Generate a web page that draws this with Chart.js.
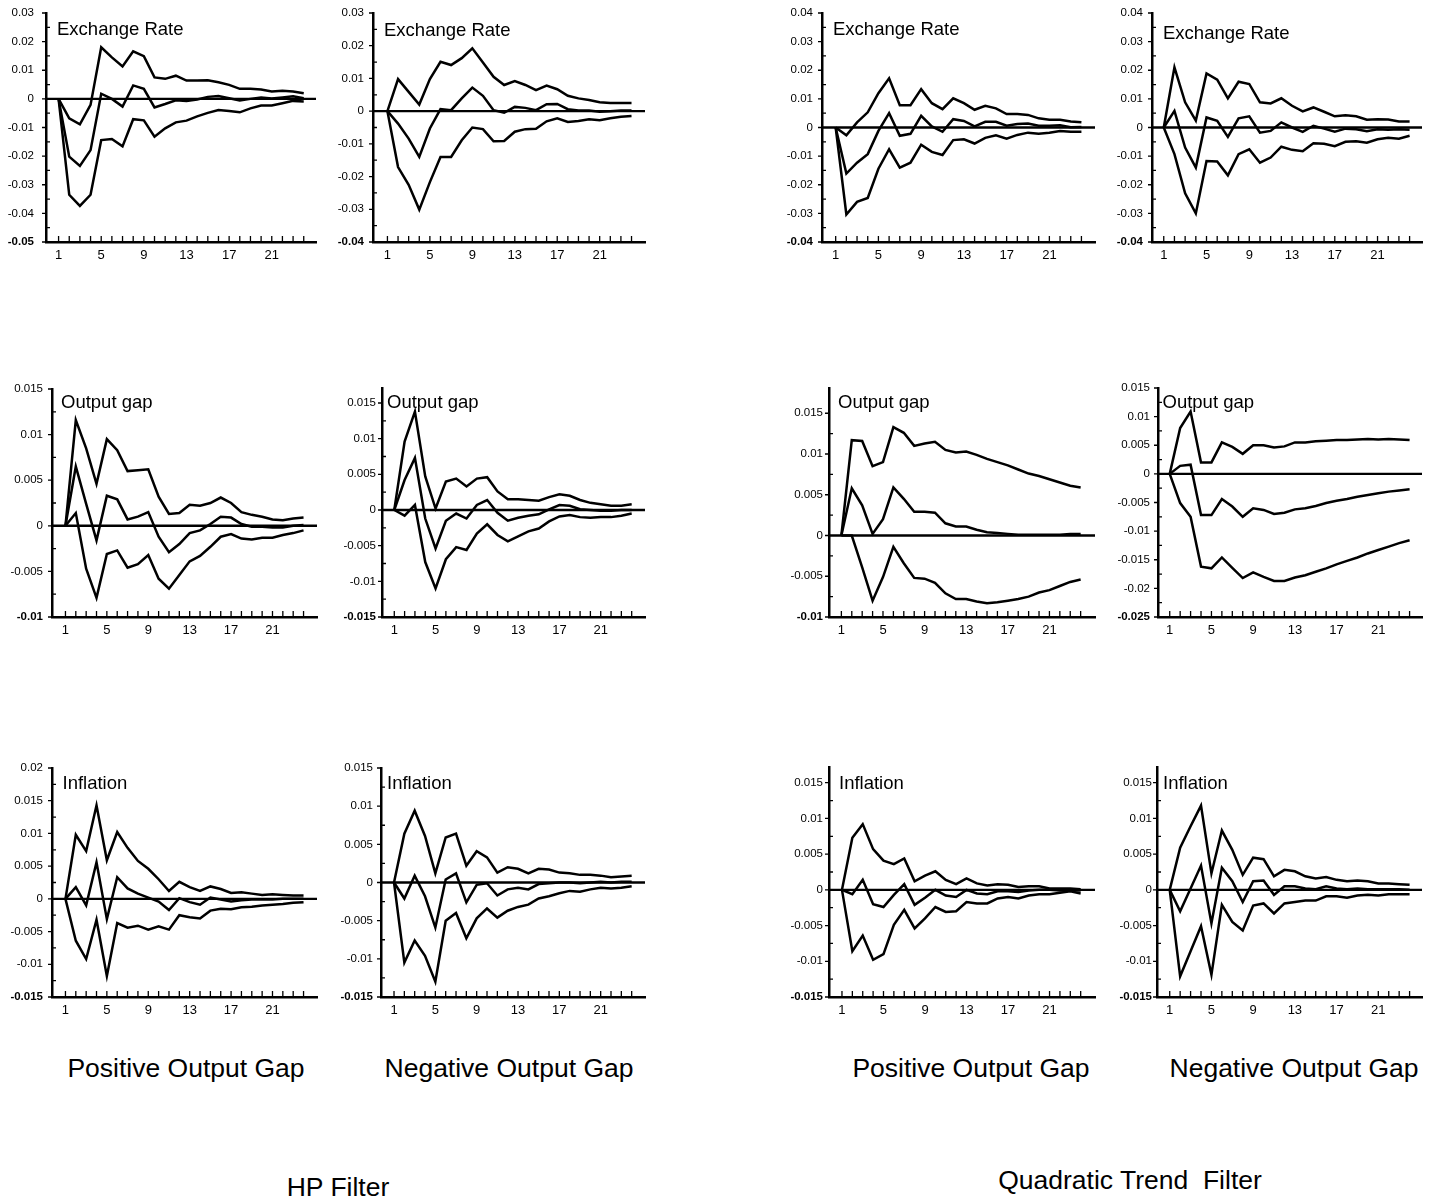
<!DOCTYPE html>
<html><head><meta charset="utf-8">
<script src="https://cdn.jsdelivr.net/npm/chart.js@4.4.1/dist/chart.umd.min.js"></script>
<style>
html,body{margin:0;padding:0;background:#fff;}
body{width:1434px;height:1201px;position:relative;overflow:hidden;font-family:"Liberation Sans",Arial,Helvetica,sans-serif;}
canvas{position:absolute;}
.cap{position:absolute;font-size:26.5px;line-height:26px;white-space:pre;transform:translateX(-50%);color:#000;}
</style></head><body>
<script>
// ---------------- DATA ----------------
const periods = [1,2,3,4,5,6,7,8,9,10,11,12,13,14,15,16,17,18,19,20,21,22,23,24];
const xTickValues = [1,5,9,13,17,21];
const panelTitles = ["Exchange Rate","Output gap","Inflation"];
const columnCaptions = ["Positive Output Gap","Negative Output Gap","Positive Output Gap","Negative Output Gap"];
const filterCaptions = ["HP Filter","Quadratic Trend  Filter"];

const yTicksEx1 = [-0.05,-0.04,-0.03,-0.02,-0.01,0,0.01,0.02,0.03];
const yTicksEx2 = [-0.04,-0.03,-0.02,-0.01,0,0.01,0.02,0.03];
const yTicksEx3 = [-0.04,-0.03,-0.02,-0.01,0,0.01,0.02,0.03,0.04];
const yTicksOg1 = [-0.01,-0.005,0,0.005,0.01,0.015];
const yTicksOg2 = [-0.015,-0.01,-0.005,0,0.005,0.01,0.015];
const yTicksOg4 = [-0.025,-0.02,-0.015,-0.01,-0.005,0,0.005,0.01,0.015];
const yTicksInf1 = [-0.015,-0.01,-0.005,0,0.005,0.01,0.015,0.02];
const yTicksInf2 = [-0.015,-0.01,-0.005,0,0.005,0.01,0.015];

// HP filter, positive output gap
const hpPosExUp  = [0,-0.0068,-0.0089,-0.0021,0.018,0.0145,0.0113,0.0166,0.0149,0.0075,0.007,0.0081,0.0064,0.0064,0.0065,0.0058,0.0049,0.0035,0.0035,0.0033,0.0026,0.0028,0.0026,0.002];
const hpPosExMid = [0,-0.0202,-0.0234,-0.0179,0.0018,0,-0.0027,0.0047,0.0035,-0.003,-0.0018,-0.0005,-0.0007,-0.0002,0.0007,0.001,0.0002,-0.0006,0,0.0005,0.0001,0.0005,0.0009,0.0002];
const hpPosExLo  = [0,-0.0335,-0.0374,-0.0335,-0.0144,-0.014,-0.0166,-0.0071,-0.0075,-0.0132,-0.0103,-0.0082,-0.0076,-0.0061,-0.0049,-0.0039,-0.0042,-0.0047,-0.0033,-0.0023,-0.0023,-0.0015,-0.0007,-0.0009];
// HP filter, negative output gap
const hpNegExUp  = [0,0.0098,0.0059,0.002,0.0098,0.0151,0.0141,0.0162,0.0192,0.0149,0.0105,0.008,0.0092,0.008,0.0064,0.0078,0.0067,0.0047,0.0039,0.0034,0.0027,0.0025,0.0025,0.0025];
const hpNegExMid = [0,-0.0038,-0.0084,-0.014,-0.0053,0.0006,0.0003,0.0039,0.0072,0.0047,0.0003,-0.0005,0.0013,0.001,0.0003,0.0021,0.0022,0.0006,0.0002,0.0002,-0.0002,0,0.0002,0.0002];
const hpNegExLo  = [0,-0.0171,-0.0225,-0.0301,-0.0217,-0.014,-0.014,-0.0089,-0.005,-0.0055,-0.0092,-0.0091,-0.0063,-0.0055,-0.0054,-0.0031,-0.0022,-0.0033,-0.003,-0.0025,-0.0028,-0.0022,-0.0017,-0.0015];
// Quadratic trend, positive output gap
const qtPosExUp  = [0,-0.0027,0.0018,0.0053,0.012,0.0172,0.0078,0.0078,0.0134,0.0085,0.0064,0.0102,0.0085,0.0062,0.0076,0.0067,0.0047,0.0047,0.0044,0.0032,0.0027,0.0027,0.0021,0.0018];
const qtPosExMid = [0,-0.0161,-0.0123,-0.0093,-0.0012,0.005,-0.0029,-0.0022,0.0041,0.0004,-0.0015,0.0029,0.0023,0.0004,0.002,0.002,0.0006,0.0012,0.0014,0.0006,0.0006,0.0008,0.0001,0.0002];
const qtPosExLo  = [0,-0.0304,-0.026,-0.0246,-0.0144,-0.0076,-0.014,-0.0123,-0.006,-0.0085,-0.0096,-0.0044,-0.0041,-0.0056,-0.0036,-0.0027,-0.0039,-0.0026,-0.0018,-0.0022,-0.0018,-0.0012,-0.0015,-0.0015];
// Quadratic trend, negative output gap
const qtNegExUp  = [0,0.021,0.0088,0.0024,0.0189,0.0167,0.0102,0.016,0.0152,0.0088,0.0084,0.0102,0.0076,0.0056,0.007,0.0055,0.0039,0.0043,0.0039,0.0027,0.0029,0.0028,0.0021,0.0021];
const qtNegExMid = [0,0.0058,-0.007,-0.014,0.0035,0.0023,-0.0033,0.0032,0.0039,-0.0018,-0.0012,0.0018,0,-0.0015,0.0006,-0.0004,-0.0015,-0.0004,-0.0006,-0.0013,-0.0006,-0.0008,-0.0006,-0.0008];
const qtNegExLo  = [0,-0.0093,-0.023,-0.03,-0.0117,-0.0119,-0.0167,-0.0093,-0.0076,-0.0123,-0.0105,-0.0067,-0.0078,-0.0083,-0.0055,-0.0057,-0.0065,-0.005,-0.0048,-0.0053,-0.0041,-0.0036,-0.0039,-0.0029];

const hpPosOgUp  = [0,0.0116,0.0085,0.0046,0.0095,0.0083,0.006,0.0061,0.0062,0.0032,0.0013,0.0014,0.0023,0.0022,0.0025,0.0031,0.0025,0.0015,0.0012,0.001,0.0007,0.0006,0.0008,0.0009];
const hpPosOgMid = [0,0.0065,0.0024,-0.0016,0.0033,0.0029,0.0007,0.001,0.0015,-0.0012,-0.0029,-0.002,-0.0008,-0.0005,0.0002,0.001,0.0009,0.0002,-0.0001,-0.0001,-0.0002,-0.0002,0,0.0001];
const hpPosOgLo  = [0,0.0014,-0.0047,-0.0079,-0.0031,-0.0027,-0.0046,-0.0042,-0.0032,-0.0058,-0.0069,-0.0054,-0.0039,-0.0033,-0.0023,-0.0012,-0.0009,-0.0014,-0.0015,-0.0013,-0.0013,-0.001,-0.0008,-0.0005];

const hpNegOgUp  = [0,0.0096,0.0138,0.0047,0.0002,0.004,0.0044,0.0033,0.0044,0.0046,0.0026,0.0015,0.0015,0.0014,0.0013,0.0018,0.0022,0.002,0.0014,0.001,0.0008,0.0006,0.0006,0.0008];
const hpNegOgMid = [0,0.0042,0.0073,-0.0012,-0.0054,-0.0015,-0.0005,-0.0012,0.0007,0.0014,-0.0004,-0.0015,-0.0011,-0.0008,-0.0006,0.0001,0.0007,0.0006,0.0001,0,-0.0001,-0.0001,0,0];
const hpNegOgLo  = [0,-0.0008,0.0007,-0.0073,-0.011,-0.0069,-0.0052,-0.0056,-0.0033,-0.002,-0.0035,-0.0044,-0.0037,-0.003,-0.0026,-0.0016,-0.0009,-0.0007,-0.001,-0.0011,-0.001,-0.001,-0.0008,-0.0005];

const qtPosOgUp  = [0,0.0117,0.0116,0.0085,0.009,0.0133,0.0126,0.011,0.0113,0.0115,0.0105,0.0102,0.0103,0.0099,0.0094,0.009,0.0086,0.0081,0.0076,0.0073,0.0069,0.0065,0.0061,0.0059];
const qtPosOgMid = [0,0.0058,0.0037,0.0002,0.002,0.0059,0.0045,0.0029,0.0029,0.0028,0.0015,0.0011,0.0011,0.0007,0.0004,0.0003,0.0002,0.0001,0.0001,0.0001,0.0001,0.0001,0.0002,0.0002];
const qtPosOgLo  = [0,0,-0.0039,-0.008,-0.0051,-0.0014,-0.0034,-0.0052,-0.0053,-0.0058,-0.0071,-0.0078,-0.0078,-0.0081,-0.0083,-0.0082,-0.008,-0.0078,-0.0075,-0.007,-0.0067,-0.0062,-0.0057,-0.0054];

const qtNegOgUp  = [0,0.008,0.0109,0.002,0.002,0.0055,0.0047,0.0035,0.005,0.005,0.0046,0.0048,0.0055,0.0055,0.0057,0.0058,0.0059,0.0059,0.006,0.0061,0.006,0.0061,0.006,0.0059];
const qtNegOgMid = [0,0.0014,0.0016,-0.0072,-0.0072,-0.0044,-0.0057,-0.0075,-0.006,-0.0063,-0.007,-0.0068,-0.0062,-0.006,-0.0056,-0.0051,-0.0047,-0.0044,-0.004,-0.0037,-0.0034,-0.0031,-0.0029,-0.0027];
const qtNegOgLo  = [0,-0.0051,-0.0075,-0.0162,-0.0165,-0.0146,-0.0164,-0.0182,-0.0172,-0.018,-0.0187,-0.0187,-0.0181,-0.0177,-0.0171,-0.0165,-0.0158,-0.0152,-0.0146,-0.0139,-0.0133,-0.0127,-0.0121,-0.0116];

const hpPosInfUp  = [0,0.0098,0.0073,0.0143,0.0059,0.0102,0.0078,0.0058,0.0046,0.003,0.0012,0.0026,0.0018,0.0012,0.0019,0.0015,0.0009,0.001,0.0008,0.0006,0.0007,0.0006,0.0005,0.0005];
const hpPosInfMid = [0,0.0018,-0.001,0.0056,-0.0031,0.0033,0.0016,0.0008,0.0002,-0.0004,-0.0017,0.0001,-0.0005,-0.0009,0.0002,-0.0001,-0.0004,-0.0002,-0.0001,-0.0001,-0.0001,0,0,0];
const hpPosInfLo  = [0,-0.0064,-0.0092,-0.0032,-0.0118,-0.0037,-0.0044,-0.0041,-0.0047,-0.0042,-0.0047,-0.0025,-0.0028,-0.003,-0.0018,-0.0015,-0.0016,-0.0013,-0.0012,-0.001,-0.0009,-0.0008,-0.0006,-0.0005];

const hpNegInfUp  = [0,0.0064,0.0094,0.0061,0.0012,0.0059,0.0064,0.0022,0.0041,0.0033,0.0013,0.002,0.0018,0.0012,0.0018,0.0017,0.0013,0.0012,0.001,0.001,0.0009,0.0007,0.0008,0.0009];
const hpNegInfMid = [0,-0.0021,0.0009,-0.0018,-0.0059,0.0004,0.0012,-0.0026,-0.0003,-0.0001,-0.0017,-0.0009,-0.0007,-0.0009,-0.0002,-0.0001,0,0,-0.0001,0,0.0001,0,0.0001,0.0001];
const hpNegInfLo  = [0,-0.0105,-0.0076,-0.0096,-0.013,-0.005,-0.004,-0.0073,-0.0047,-0.0034,-0.0046,-0.0037,-0.0032,-0.0029,-0.0021,-0.0018,-0.0014,-0.0011,-0.0012,-0.0009,-0.0007,-0.0008,-0.0007,-0.0005];

const qtPosInfUp  = [0,0.0073,0.0092,0.0057,0.0041,0.0036,0.0044,0.0012,0.002,0.0026,0.0014,0.0008,0.0016,0.0009,0.0006,0.0008,0.0007,0.0004,0.0005,0.0005,0.0002,0.0002,0.0002,0.0001];
const qtPosInfMid = [0,-0.0006,0.0014,-0.002,-0.0024,-0.0007,0.0008,-0.0021,-0.0011,0,-0.0008,-0.001,0,-0.0005,-0.0006,-0.0002,-0.0002,-0.0003,-0.0001,0,0,-0.0001,-0.0001,-0.0001];
const qtPosInfLo  = [0,-0.0086,-0.0064,-0.0098,-0.009,-0.0049,-0.0028,-0.0054,-0.004,-0.0024,-0.0031,-0.003,-0.0017,-0.0019,-0.0019,-0.0012,-0.001,-0.0012,-0.0008,-0.0006,-0.0006,-0.0004,-0.0002,-0.0005];

const qtNegInfUp  = [0,0.0059,0.0089,0.0118,0.0023,0.0083,0.0056,0.0021,0.0045,0.0043,0.0019,0.0028,0.0026,0.0019,0.0016,0.0018,0.0014,0.0012,0.0013,0.0012,0.0009,0.0009,0.0008,0.0007];
const qtNegInfMid = [0,-0.003,0.0002,0.0034,-0.0047,0.0031,0.0012,-0.0017,0.0012,0.0013,-0.0007,0.0005,0.0005,0.0002,0.0001,0.0005,0.0002,0.0001,0.0002,0.0001,0.0001,0.0001,0.0001,0];
const qtNegInfLo  = [0,-0.0121,-0.0086,-0.0051,-0.0119,-0.0021,-0.0045,-0.0057,-0.0022,-0.0019,-0.0033,-0.0019,-0.0017,-0.0015,-0.0015,-0.0009,-0.0009,-0.0011,-0.0008,-0.0007,-0.0008,-0.0006,-0.0006,-0.0006];

// ---------------- PANELS ----------------
const panels = [
  {title:0, series:[hpPosExUp,hpPosExMid,hpPosExLo], ticks:yTicksEx1, ymin:-0.05, ymax:0.03,
   L:{axisX:46, axisEnd:316, topY:13, botY:242, xmin:-0.18, xmax:25.15, gap:12, tdx:11, tdy:9}},
  {title:0, series:[hpNegExUp,hpNegExMid,hpNegExLo], ticks:yTicksEx2, ymin:-0.04, ymax:0.03,
   L:{axisX:373, axisEnd:645, topY:13, botY:242, xmin:-0.36, xmax:25.27, gap:9, tdx:11, tdy:10}},
  {title:0, series:[qtPosExUp,qtPosExMid,qtPosExLo], ticks:yTicksEx3, ymin:-0.04, ymax:0.04,
   L:{axisX:822, axisEnd:1095, topY:13, botY:242, xmin:-0.28, xmax:25.27, gap:9, tdx:11, tdy:9}},
  {title:0, series:[qtNegExUp,qtNegExMid,qtNegExLo], ticks:yTicksEx3, ymin:-0.04, ymax:0.04,
   L:{axisX:1152, axisEnd:1422, topY:13, botY:242, xmin:-0.10, xmax:25.16, gap:9, tdx:11, tdy:13}},

  {title:1, series:[hpPosOgUp,hpPosOgMid,hpPosOgLo], ticks:yTicksOg1, ymin:-0.01, ymax:0.015,
   L:{axisX:52, axisEnd:317, topY:389, botY:617, xmin:-0.30, xmax:25.3, gap:9, tdx:9, tdy:6}},
  {title:1, series:[hpNegOgUp,hpNegOgMid,hpNegOgLo], ticks:yTicksOg2, ymin:-0.015, ymax:0.0171,
   L:{axisX:382, axisEnd:645, topY:388, botY:617, xmin:-0.19, xmax:25.29, gap:6, tdx:5, tdy:7}},
  {title:1, series:[qtPosOgUp,qtPosOgMid,qtPosOgLo], ticks:yTicksOg1, ymin:-0.01, ymax:0.0181,
   L:{axisX:829, axisEnd:1095, topY:388, botY:617, xmin:-0.19, xmax:25.38, gap:6, tdx:9, tdy:7}},
  {title:1, series:[qtNegOgUp,qtNegOgMid,qtNegOgLo], ticks:yTicksOg4, ymin:-0.025, ymax:0.015,
   L:{axisX:1158, axisEnd:1422, topY:388, botY:617, xmin:-0.125, xmax:25.19, gap:8, tdx:4.5, tdy:7}},

  {title:2, series:[hpPosInfUp,hpPosInfMid,hpPosInfLo], ticks:yTicksInf1, ymin:-0.015, ymax:0.02,
   L:{axisX:52, axisEnd:317, topY:768, botY:997, xmin:-0.30, xmax:25.3, gap:9, tdx:10.5, tdy:8}},
  {title:2, series:[hpNegInfUp,hpNegInfMid,hpNegInfLo], ticks:yTicksInf2, ymin:-0.015, ymax:0.015,
   L:{axisX:381, axisEnd:645, topY:768, botY:997, xmin:-0.26, xmax:25.29, gap:8, tdx:6, tdy:8}},
  {title:2, series:[qtPosInfUp,qtPosInfMid,qtPosInfLo], ticks:yTicksInf2, ymin:-0.015, ymax:0.0172,
   L:{axisX:829, axisEnd:1095, topY:767, botY:997, xmin:-0.25, xmax:25.38, gap:6, tdx:10, tdy:9}},
  {title:2, series:[qtNegInfUp,qtNegInfMid,qtNegInfLo], ticks:yTicksInf2, ymin:-0.015, ymax:0.0172,
   L:{axisX:1157, axisEnd:1422, topY:767, botY:997, xmin:-0.22, xmax:25.19, gap:5, tdx:6, tdy:9}}
];

const FONT = '"Liberation Sans", Arial, Helvetica, sans-serif';
const YW = 60, XH = 30, PADT = 24, PADR = 4;

const decor = {
  id: 'decor',
  afterDraw(chart, args, opts) {
    const {ctx, chartArea: ca} = chart;
    const xs = chart.scales.x, ys = chart.scales.y;
    ctx.save();
    ctx.strokeStyle = '#000';
    // zero line
    const y0 = ys.getPixelForValue(0);
    ctx.lineWidth = 2.4;
    ctx.beginPath(); ctx.moveTo(ca.left, y0); ctx.lineTo(ca.right, y0); ctx.stroke();
    // x ticks (inside)
    ctx.lineWidth = 1.3;
    ctx.beginPath();
    periods.forEach(p => { const x = xs.getPixelForValue(p); ctx.moveTo(x, ca.bottom); ctx.lineTo(x, ca.bottom - 6); });
    // y major ticks (outside) and minor ticks (inside)
    const tv = opts.tickVals;
    tv.forEach((v, i) => {
      const y = ys.getPixelForValue(v);
      ctx.moveTo(ca.left - 4, y); ctx.lineTo(ca.left, y);
      if (i < tv.length - 1) {
        const ym = ys.getPixelForValue((v + tv[i+1]) / 2);
        ctx.moveTo(ca.left, ym); ctx.lineTo(ca.left + 4, ym);
      }
    });
    ctx.stroke();
    // panel title
    ctx.fillStyle = '#000';
    ctx.font = '18.5px ' + FONT;
    ctx.textBaseline = 'alphabetic';
    ctx.textAlign = 'left';
    ctx.fillText(opts.title, ca.left + opts.dx, ca.top + opts.dy + 13);
    ctx.restore();
  }
};

panels.forEach(pn => {
  const L = pn.L;
  const left = L.axisX - YW;
  const top = L.topY - PADT;
  const w = L.axisEnd - left + PADR;
  const h = L.botY - top + XH;
  const cv = document.createElement('canvas');
  cv.width = w; cv.height = h;
  cv.style.left = left + 'px'; cv.style.top = top + 'px';
  cv.style.width = w + 'px'; cv.style.height = h + 'px';
  document.body.appendChild(cv);
  const datasets = pn.series.map(vals => ({
    data: periods.map((p, i) => ({x: p, y: vals[i]})),
    borderColor: '#000', borderWidth: 2.5, pointRadius: 0, fill: false, tension: 0,
    borderJoinStyle: 'miter', clip: false
  }));
  new Chart(cv, {
    type: 'line',
    data: {datasets},
    plugins: [decor],
    options: {
      responsive: false, animation: false, devicePixelRatio: 1,
      layout: {padding: {left: 0, right: PADR, top: PADT, bottom: 0}},
      plugins: {
        legend: {display: false}, tooltip: {enabled: false},
        decor: {title: panelTitles[pn.title], dx: L.tdx, dy: L.tdy, tickVals: pn.ticks}
      },
      scales: {
        x: {
          type: 'linear', min: L.xmin, max: L.xmax,
          afterBuildTicks: s => { s.ticks = xTickValues.map(v => ({value: v})); },
          afterFit: s => { s.height = XH; },
          grid: {display: false, drawTicks: false},
          border: {display: true, color: '#000', width: 2.5},
          ticks: {color: '#000', padding: 6, maxRotation: 0, autoSkip: false,
                  font: {family: FONT, size: 13}, callback: v => String(v)}
        },
        y: {
          type: 'linear', min: pn.ymin, max: pn.ymax,
          afterBuildTicks: s => { s.ticks = pn.ticks.map(v => ({value: v})); },
          afterFit: s => { s.width = YW; },
          grid: {display: false, drawTicks: false},
          border: {display: true, color: '#000', width: 2.5},
          ticks: {color: '#000', padding: L.gap, autoSkip: false,
                  font: c => ({family: FONT, size: 11.5, weight: c.index === 0 ? 'bold' : 'normal'}),
                  callback: v => String(v)}
        }
      }
    }
  });
});

// captions
const capPos = [[186,1055],[509,1055],[971,1055],[1294,1055]];
columnCaptions.forEach((t, i) => {
  const d = document.createElement('div'); d.className = 'cap'; d.textContent = t;
  d.style.left = capPos[i][0] + 'px'; d.style.top = capPos[i][1] + 'px';
  document.body.appendChild(d);
});
const filtPos = [[338,1174],[1130,1167]];
filterCaptions.forEach((t, i) => {
  const d = document.createElement('div'); d.className = 'cap'; d.textContent = t;
  d.style.left = filtPos[i][0] + 'px'; d.style.top = filtPos[i][1] + 'px';
  document.body.appendChild(d);
});
</script>
</body></html>
